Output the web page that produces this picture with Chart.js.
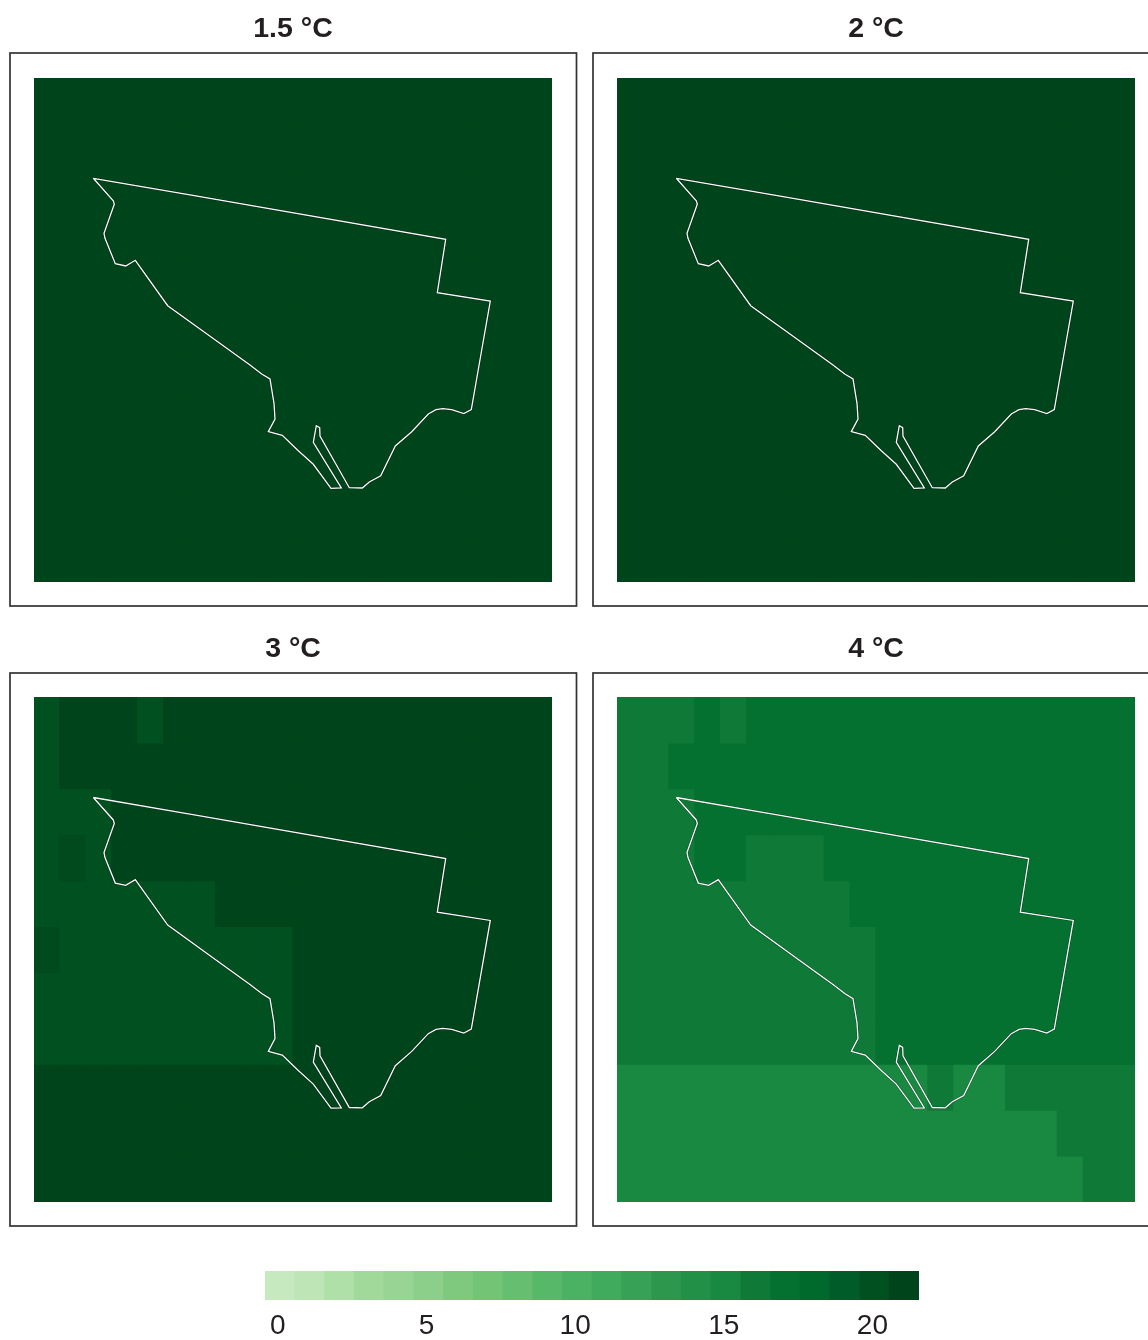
<!DOCTYPE html>
<html>
<head>
<meta charset="utf-8">
<script src="https://cdn.jsdelivr.net/npm/chart.js@4"></script>
<style>
html,body{margin:0;padding:0;background:#fff;overflow:hidden}
#page{position:relative;width:1148px;height:1340px;overflow:hidden;background:#fff}
canvas{position:absolute}
</style>
</head>
<body>
<div id="page"></div>
<script>
const panelTitles = ['1.5 °C', '2 °C', '3 °C', '4 °C'];
const columns = ['c1','c2','c3','c4','c5','c6','c7','c8','c9','c10','c11','c12','c13','c14','c15','c16','c17','c18','c19','c20'];

const values15 = [
 [21,21,21,21,21,21,21,21,21,21,21,21,21,21,21,21,21,21,21,21],
 [21,21,21,21,21,21,21,21,21,21,21,21,21,21,21,21,21,21,21,21],
 [21,21,21,21,21,21,21,21,21,21,21,21,21,21,21,21,21,21,21,21],
 [21,21,21,21,21,21,21,21,21,21,21,21,21,21,21,21,21,21,21,21],
 [21,21,21,21,21,21,21,21,21,21,21,21,21,21,21,21,21,21,21,21],
 [21,21,21,21,21,21,21,21,21,21,21,21,21,21,21,21,21,21,21,21],
 [21,21,21,21,21,21,21,21,21,21,21,21,21,21,21,21,21,21,21,21],
 [21,21,21,21,21,21,21,21,21,21,21,21,21,21,21,21,21,21,21,21],
 [21,21,21,21,21,21,21,21,21,21,21,21,21,21,21,21,21,21,21,21],
 [21,21,21,21,21,21,21,21,21,21,21,21,21,21,21,21,21,21,21,21],
 [21,21,21,21,21,21,21,21,21,21,21,21,21,21,21,21,21,21,21,21]
];
const values2 = [
 [21,21,21,21,21,21,21,21,21,21,21,21,21,21,21,21,21,21,21,21],
 [21,21,21,21,21,21,21,21,21,21,21,21,21,21,21,21,21,21,21,21],
 [21,21,21,21,21,21,21,21,21,21,21,21,21,21,21,21,21,21,21,21],
 [21,21,21,21,21,21,21,21,21,21,21,21,21,21,21,21,21,21,21,21],
 [21,21,21,21,21,21,21,21,21,21,21,21,21,21,21,21,21,21,21,21],
 [21,21,21,21,21,21,21,21,21,21,21,21,21,21,21,21,21,21,21,21],
 [21,21,21,21,21,21,21,21,21,21,21,21,21,21,21,21,21,21,21,21],
 [21,21,21,21,21,21,21,21,21,21,21,21,21,21,21,21,21,21,21,21],
 [21,21,21,21,21,21,21,21,21,21,21,21,21,21,21,21,21,21,21,21],
 [21,21,21,21,21,21,21,21,21,21,21,21,21,21,21,21,21,21,21,21],
 [21,21,21,21,21,21,21,21,21,21,21,21,21,21,21,21,21,21,21,21]
];
const values3 = [
 [20,21,21,21,20,21,21,21,21,21,21,21,21,21,21,21,21,21,21,21],
 [20,21,21,21,21,21,21,21,21,21,21,21,21,21,21,21,21,21,21,21],
 [20,20,20,21,21,21,21,21,21,21,21,21,21,21,21,21,21,21,21,21],
 [20,20.5,20,21,21,21,21,21,21,21,21,21,21,21,21,21,21,21,21,21],
 [20,20,20,20,20,20,20,21,21,21,21,21,21,21,21,21,21,21,21,21],
 [20.5,20,20,20,20,20,20,20,20,20,21,21,21,21,21,21,21,21,21,21],
 [20,20,20,20,20,20,20,20,20,20,21,21,21,21,21,21,21,21,21,21],
 [20,20,20,20,20,20,20,20,20,20,21,21,21,21,21,21,21,21,21,21],
 [21,21,21,21,21,21,21,21,21,21,21,21,21,21,21,21,21,21,21,21],
 [21,21,21,21,21,21,21,21,21,21,21,21,21,21,21,21,21,21,21,21],
 [21,21,21,21,21,21,21,21,21,21,21,21,21,21,21,21,21,21,21,21]
];
const values4 = [
 [16,16,16,17,16,17,17,17,17,17,17,17,17,17,17,17,17,17,17,17],
 [16,16,17,17,17,17,17,17,17,17,17,17,17,17,17,17,17,17,17,17],
 [16,16,16,17,17,17,17,17,17,17,17,17,17,17,17,17,17,17,17,17],
 [16,16,16,17,17,16,16,16,17,17,17,17,17,17,17,17,17,17,17,17],
 [16,16,16,16,16,16,16,16,16,17,17,17,17,17,17,17,17,17,17,17],
 [16,16,16,16,16,16,16,16,16,16,17,17,17,17,17,17,17,17,17,17],
 [16,16,16,16,16,16,16,16,16,16,17,17,17,17,17,17,17,17,17,17],
 [16,16,16,16,16,16,16,16,16,16,17,17,17,17,17,17,17,17,17,17],
 [15,15,15,15,15,15,15,15,15,15,15,15,16,15,15,16,16,16,16,16],
 [15,15,15,15,15,15,15,15,15,15,15,15,15,15,15,15,15,16,16,16],
 [15,15,15,15,15,15,15,15,15,15,15,15,15,15,15,15,15,15,16,16]
];

const boundaryX = [59.3,153,156,411.7,403.3,456.3,447.7,437.3,429.8,417.7,408.7,402,394.3,377.7,361.3,346.7,335.3,328.3,315.3,286,285.7,282.3,279.3,307.3,297,279.3,264.3,248.3,234.3,241,240,236,227.7,216,181.3,133.7,101.3,91.7,81.3,71,70,80.3,79.3,59.3];
const boundaryY = [100.3,116.3,116.8,161.3,214.7,223,272,331.5,335.5,331.7,330.7,331.7,336,353.7,368,397.7,404,410,409.7,358,349.7,347.7,364.3,410,410.3,386.3,372.7,357.3,353.7,341,325.3,301,296,287,262,227.7,182.3,188,185.7,160.3,155.3,126.3,122.7,100.3];

const legendValues = [0,1,2,3,4,5,6,7,8,9,10,11,12,13,14,15,16,17,18,19,20,21];
const legendColors = ['#c7e9c0','#bde5b6','#aee0a8','#a1d99b','#98d594','#8bcf8a','#7fc97f','#74c476','#66bf71','#57b869','#4cb263','#41ab5d','#37a155','#2d974e','#239047','#198840','#0f7a37','#057130','#006a2d','#005c28','#005020','#00441b'];

function hexToRgb(h){return [1,3,5].map(i=>parseInt(h.slice(i,i+2),16));}
function colorFor(v){
  const lo=Math.floor(v), hi=Math.min(lo+1,legendColors.length-1), t=v-lo;
  const a=hexToRgb(legendColors[lo]), b=hexToRgb(legendColors[hi]);
  return 'rgb('+a.map((c,i)=>Math.round(c+(b[i]-c)*t)).join(',')+')';
}

const panelFrame={
  id:'panelFrame',
  beforeDraw(chart){
    const c=chart.ctx;
    c.save();
    c.strokeStyle='#333';
    c.lineWidth=1.7;
    c.strokeRect(10,53,566.5,553);
    c.restore();
  }
};

const page=document.getElementById('page');
const panels=[values15,values2,values3,values4];
const boundary=boundaryX.map((x,i)=>({x:x,y:boundaryY[i]}));

panels.forEach((grid,p)=>{
  const col=p%2, row=p>1?1:0;
  const left=col*583, top=row*620;
  const cv=document.createElement('canvas');
  cv.width=586; cv.height=626;
  cv.style.left=left+'px'; cv.style.top=top+'px';
  page.appendChild(cv);
  const cells=grid.map(r=>({
    type:'bar',
    data:r.map(()=>1),
    backgroundColor:r.map(colorFor),
    borderWidth:0,
    inflateAmount:0.5,
    barPercentage:1,
    categoryPercentage:1,
    grouped:false,
    stack:'grid',
    xAxisID:'x',yAxisID:'y',
    order:3
  }));
  new Chart(cv,{
    type:'bar',
    plugins:[panelFrame],
    data:{labels:columns,datasets:cells.concat([
      {type:'scatter',data:boundary,showLine:true,borderColor:'rgba(0,0,0,0.45)',borderWidth:2.2,pointRadius:0,tension:0,xAxisID:'mx',yAxisID:'my',order:2},
      {type:'scatter',data:boundary,showLine:true,borderColor:'#ffffff',borderWidth:1.3,pointRadius:0,tension:0,xAxisID:'mx',yAxisID:'my',order:1}
    ])},
    options:{
      responsive:false,animation:false,devicePixelRatio:1,
      events:[],
      layout:{padding:{left:34,right:34,top:12,bottom:44}},
      plugins:{
        legend:{display:false},tooltip:{enabled:false},
        title:{display:true,text:panelTitles[p],color:'#231f20',
          font:{family:'"Liberation Sans",Arial,sans-serif',size:28.5,weight:'bold',lineHeight:1.2},
          padding:{top:0,bottom:row?30.8:31.8}}
      },
      scales:{
        x:{type:'category',stacked:true,display:false,grid:{display:false}},
        y:{type:'linear',stacked:true,display:false,min:0,max:11,reverse:true,grid:{display:false}},
        mx:{type:'linear',axis:'x',position:'bottom',offset:false,display:false,min:0,max:518},
        my:{type:'linear',axis:'y',position:'left',display:false,min:0,max:504,reverse:true}
      }
    }
  });
});

const lc=document.createElement('canvas');
lc.width=780; lc.height=90;
lc.style.left='200px'; lc.style.top='1250px';
page.appendChild(lc);
new Chart(lc,{
  type:'bar',
  data:{labels:legendValues,datasets:[{
    data:legendValues.map(()=>1),
    backgroundColor:legendColors,
    borderWidth:0,barPercentage:1,categoryPercentage:1
  }]},
  options:{
    responsive:false,animation:false,devicePixelRatio:1,events:[],
    layout:{padding:{left:65,right:61,top:21,bottom:0}},
    plugins:{legend:{display:false},tooltip:{enabled:false},title:{display:false}},
    scales:{
      x:{type:'category',grid:{display:false,drawTicks:false},border:{display:false},
        afterFit:s=>{s.height=40;},
        ticks:{autoSkip:false,maxRotation:0,minRotation:0,padding:9,labelOffset:-2,color:'#231f20',
          font:{family:'"Liberation Sans",Arial,sans-serif',size:28,lineHeight:1.2},
          callback:function(v){const l=this.getLabelForValue(v);return l%5===0?String(l):'';}}},
      y:{display:false,min:0,max:1,grid:{display:false}}
    }
  }
});
</script>
</body>
</html>
